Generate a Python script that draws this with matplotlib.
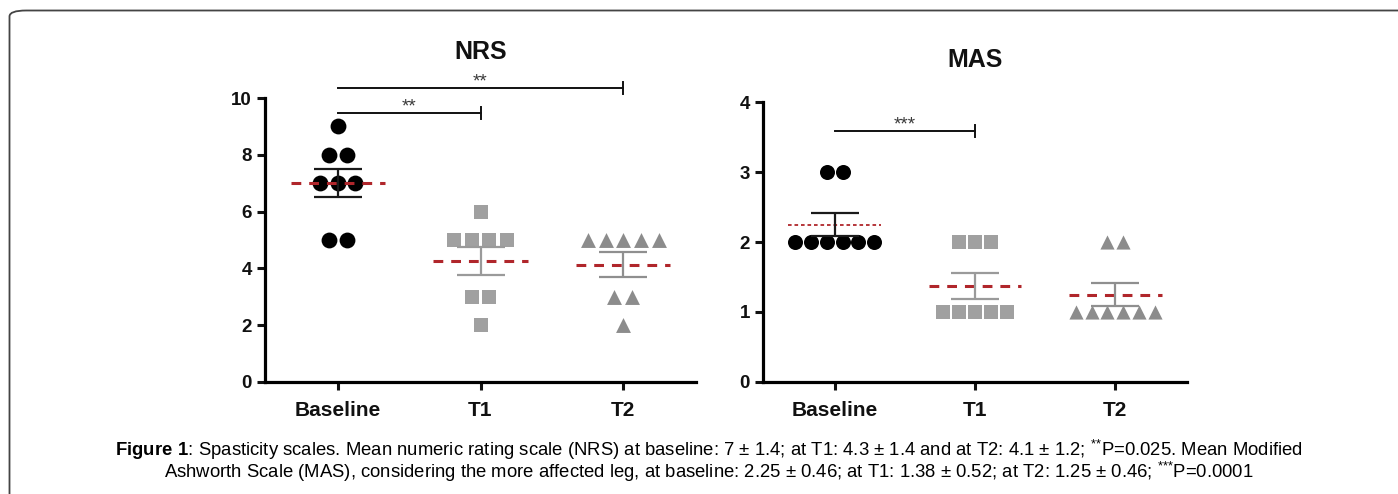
import matplotlib

matplotlib.use("Agg")
import matplotlib.pyplot as plt
import numpy as np
from matplotlib.patches import FancyBboxPatch

plt.rcParams["font.family"] = ["Liberation Sans", "DejaVu Sans"]
plt.rcParams["mathtext.fontset"] = "custom"
plt.rcParams["mathtext.rm"] = "Liberation Sans"
plt.rcParams["mathtext.bf"] = "Liberation Sans:bold"

groups = ["Baseline", "T1", "T2"]

nrs_baseline = [9, 8, 8, 7, 7, 7, 5, 5]
nrs_t1 = [6, 5, 5, 5, 5, 3, 3, 2]
nrs_t2 = [5, 5, 5, 5, 5, 3, 3, 2]

mas_baseline = [3, 3, 2, 2, 2, 2, 2, 2]
mas_t1 = [2, 2, 2, 1, 1, 1, 1, 1]
mas_t2 = [2, 2, 1, 1, 1, 1, 1, 1]

nrs_sig = [(0, 1, 9.47, "**"), (0, 2, 10.35, "**")]
mas_sig = [(0, 1, 3.59, "***")]

caption1 = (r"$\mathbf{Figure\ 1}$: Spasticity scales. Mean numeric rating scale (NRS) at baseline: "
            r"7 ± 1.4; at T1: 4.3 ± 1.4 and at T2: 4.1 ± 1.2; $^{{*}{*}}$P=0.025. Mean Modified")
caption2 = (r"Ashworth Scale (MAS), considering the more affected leg, at baseline: 2.25 ± 0.46; "
            r"at T1: 1.38 ± 0.52; at T2: 1.25 ± 0.46; $^{{*}{*}{*}}$P=0.0001")

MARKERS = ["o", "s", "^"]
MSIZE = [130, 110, 115]
COLORS = ["#000000", "#a0a0a0", "#8c8c8c"]
BAR_COLORS = ["#1a1a1a", "#9a9a9a", "#8f8f8f"]
RED = "#b0262b"


def swarm_offsets(vals, spacing):
    vals = np.asarray(vals)
    off = np.zeros(len(vals))
    for v in np.unique(vals):
        idx = np.where(vals == v)[0]
        n = len(idx)
        off[idx] = (np.arange(n) - (n - 1) / 2) * spacing
    return off


def panel(ax, data, title, ymax, yticks, sig, spacing, mscale, dotted_first, title_y):
    for i, vals in enumerate(data):
        vals = np.asarray(vals, dtype=float)
        mean = vals.mean()
        sem = vals.std(ddof=1) / np.sqrt(len(vals))
        x = i + swarm_offsets(vals, spacing)
        ax.scatter(x, vals, marker=MARKERS[i], s=MSIZE[i] * mscale,
                   color=COLORS[i], linewidths=0, zorder=3, clip_on=False)
        ls = (0, (2, 1.6)) if (dotted_first and i == 0) else (0, (3.2, 2.6))
        lw = 1.3 if (dotted_first and i == 0) else 2.2
        ax.plot([i - 0.33, i + 0.33], [mean, mean], color=RED, lw=lw, ls=ls, zorder=4)
        ax.errorbar(i, mean, yerr=sem, color=BAR_COLORS[i], lw=1.6, capsize=17,
                    capthick=1.6, zorder=5)
    for a, b, y, stars in sig:
        ax.plot([a, b], [y, y], color="#111111", lw=1.4, clip_on=False)
        ax.plot([b, b], [y - ymax * 0.022, y + ymax * 0.022], color="#111111", lw=1.4, clip_on=False)
        ax.annotate(stars, ((a + b) / 2, y), xytext=(0, 1), textcoords="offset points",
                    ha="center", va="baseline", fontsize=13.5, color="#3a3a3a",
                    annotation_clip=False)
    ax.set_xlim(-0.51, 2.51)
    ax.set_ylim(0, ymax)
    ax.set_yticks(yticks)
    ax.set_xticks(range(3))
    ax.set_xticklabels(groups)
    for s in ("top", "right"):
        ax.spines[s].set_visible(False)
    for s in ("left", "bottom"):
        ax.spines[s].set_linewidth(2.3)
    ax.tick_params(width=2.2, length=6, labelsize=13.5, colors="#111111")
    ax.tick_params(axis="x", pad=8, labelsize=15)
    for lab in ax.get_xticklabels() + ax.get_yticklabels():
        lab.set_fontweight("bold")
    ax.text(0.5, title_y, title, transform=ax.transAxes, ha="center", va="center",
            fontsize=18, fontweight="bold", color="#111111")


fig = plt.figure(figsize=(13.98, 4.94), dpi=100)

frame = FancyBboxPatch((9.5 / 1398, -0.2), 1.2, 1.0 - 10.5 / 494 + 0.2,
                       boxstyle="round,pad=0,rounding_size=0.012",
                       transform=fig.transFigure, fill=False, edgecolor="#444444",
                       lw=1.3, clip_on=False)
fig.patches.append(frame)

ax1 = fig.add_axes([265 / 1398, 1 - 382 / 494, (696 - 265) / 1398, (382 - 98) / 494])
ax2 = fig.add_axes([763 / 1398, 1 - 382 / 494, (1187 - 763) / 1398, (382 - 102) / 494])

panel(ax1, [nrs_baseline, nrs_t1, nrs_t2], "NRS", 10, [0, 2, 4, 6, 8, 10], nrs_sig,
      0.124, 1.0, False, 1.163)
panel(ax2, [mas_baseline, mas_t1, mas_t2], "MAS", 4, [0, 1, 2, 3, 4], mas_sig,
      0.113, 0.9, True, 1.15)

fig.text(709 / 1398, 1 - 450 / 494, caption1, ha="center", va="center", fontsize=13.3)
fig.text(709 / 1398, 1 - 472 / 494, caption2, ha="center", va="center", fontsize=13.3)

fig.savefig("out.png", dpi=100, facecolor="white")
